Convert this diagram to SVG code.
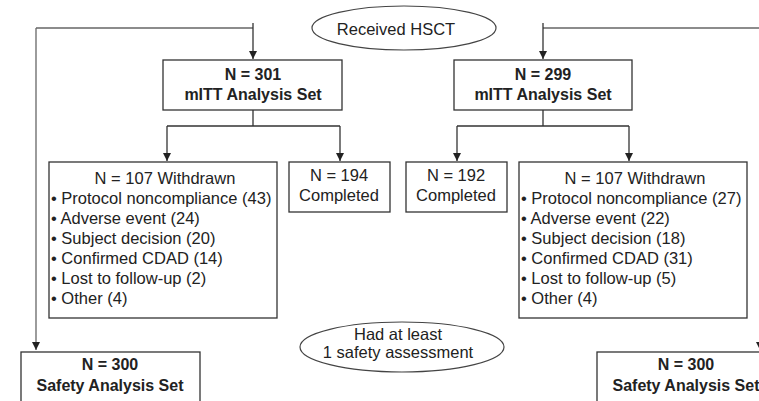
<svg xmlns="http://www.w3.org/2000/svg" width="759" height="401" viewBox="0 0 759 401">
<style>
.box{fill:#fff;stroke:#333;stroke-width:1.3}
.ell{fill:#fff;stroke:#444;stroke-width:1.2}
.t{font-family:"Liberation Sans",Arial,sans-serif;font-size:16.5px;fill:#222}
.b{font-weight:bold;font-size:16px}
.c{text-anchor:middle}
.ln{fill:none;stroke:#333;stroke-width:1.3}
.lg{fill:none;stroke:#666;stroke-width:1.3}
</style>
<defs>
<marker id="ah" viewBox="0 0 8 10" refX="8" refY="5" markerWidth="8" markerHeight="10" markerUnits="userSpaceOnUse" orient="auto">
<path d="M0,1 L8,5 L0,9 Z" fill="#222"/>
</marker>
</defs>
<rect width="759" height="401" fill="#fff"/>
<g id="connectors">
<path class="lg" d="M36,28 H253"/>
<path class="ln" d="M253,23 V59" marker-end="url(#ah)"/>
<path class="lg" d="M36,28 V350" marker-end="url(#ah)"/>
<path class="lg" d="M760,28 H543"/>
<path class="ln" d="M543,23 V59" marker-end="url(#ah)"/>
<path class="lg" d="M760,28 V350" marker-end="url(#ah)"/>
<path class="ln" d="M253,110 V126 M167,126 H340 M457,126 H629 M543,110 V126"/>
<path class="ln" d="M167,126 V161" marker-end="url(#ah)"/>
<path class="ln" d="M340,126 V161" marker-end="url(#ah)"/>
<path class="ln" d="M457,126 V161" marker-end="url(#ah)"/>
<path class="ln" d="M629,126 V161" marker-end="url(#ah)"/>
</g>
<g id="received">
<ellipse class="ell" cx="404" cy="28" rx="92" ry="22"/>
<text class="t c" x="396" y="35">Received HSCT</text>
</g>
<g id="mitt1">
<rect class="box" x="163" y="60" width="179" height="50"/>
<text class="t b c" x="253" y="80">N = 301</text>
<text class="t b c" x="253" y="100">mITT Analysis Set</text>
</g>
<g id="mitt2">
<rect class="box" x="454" y="60" width="178" height="50"/>
<text class="t b c" x="543" y="80">N = 299</text>
<text class="t b c" x="543" y="100">mITT Analysis Set</text>
</g>
<g id="withdrawn1">
<rect class="box" x="49" y="162" width="228" height="156"/>
<text class="t c" x="165" y="184">N = 107 Withdrawn</text>
<text class="t" x="51" y="204">• Protocol noncompliance (43)</text>
<text class="t" x="51" y="224">• Adverse event (24)</text>
<text class="t" x="51" y="244">• Subject decision (20)</text>
<text class="t" x="51" y="264">• Confirmed CDAD (14)</text>
<text class="t" x="51" y="284">• Lost to follow-up (2)</text>
<text class="t" x="51" y="304">• Other (4)</text>
</g>
<g id="completed1">
<rect class="box" x="289" y="162" width="101" height="50"/>
<text class="t c" x="339" y="181">N = 194</text>
<text class="t c" x="339" y="201">Completed</text>
</g>
<g id="completed2">
<rect class="box" x="406" y="162" width="101" height="50"/>
<text class="t c" x="456" y="181">N = 192</text>
<text class="t c" x="456" y="201">Completed</text>
</g>
<g id="withdrawn2">
<rect class="box" x="519" y="162" width="228" height="156"/>
<text class="t c" x="635" y="184">N = 107 Withdrawn</text>
<text class="t" x="521" y="204">• Protocol noncompliance (27)</text>
<text class="t" x="521" y="224">• Adverse event (22)</text>
<text class="t" x="521" y="244">• Subject decision (18)</text>
<text class="t" x="521" y="264">• Confirmed CDAD (31)</text>
<text class="t" x="521" y="284">• Lost to follow-up (5)</text>
<text class="t" x="521" y="304">• Other (4)</text>
</g>
<g id="safetycond">
<ellipse class="ell" cx="402" cy="347" rx="102" ry="25"/>
<text class="t c" x="398" y="340">Had at least</text>
<text class="t c" x="398" y="358">1 safety assessment</text>
</g>
<g id="safety1">
<rect class="box" x="21" y="352" width="179" height="60"/>
<text class="t b c" x="110" y="370">N = 300</text>
<text class="t b c" x="110" y="391">Safety Analysis Set</text>
</g>
<g id="safety2">
<rect class="box" x="597" y="352" width="179" height="60"/>
<text class="t b c" x="686" y="370">N = 300</text>
<text class="t b c" x="686" y="391">Safety Analysis Set</text>
</g>
</svg>
